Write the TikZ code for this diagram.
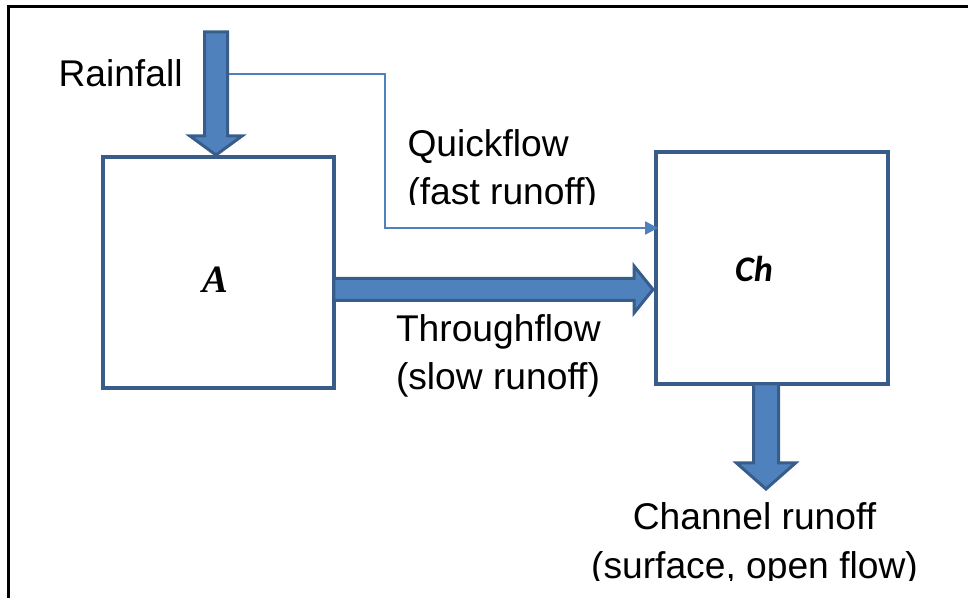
\documentclass[tikz,border=0pt]{standalone}
\usepackage{fontspec}
\setmainfont{Liberation Sans}
\newfontfamily\tnrfont{Liberation Serif}
\newfontfamily\calibfont{Carlito}
\usetikzlibrary{calc,arrows.meta}
\definecolor{accfill}{HTML}{4F81BD}
\definecolor{accline}{HTML}{385D8A}
\tikzset{
  box/.style={draw=accline, line width=3pt, fill=white, rectangle, inner sep=0pt, outer sep=0pt},
  fatarrow/.style={draw=accline, fill=accfill, line width=2.25pt, line join=miter},
  lab/.style={font=\fontsize{27.9pt}{36pt}\selectfont, inner sep=0pt, outer sep=0pt},
  thinflow/.style={draw=accfill, line width=1.1pt, -{Triangle[length=9.75pt,width=10pt]}},
  frameline/.style={draw=black, line width=2.25pt},
}
\begin{document}
\begin{tikzpicture}[x=0.75pt, y=-0.75pt]
\useasboundingbox (0,0) rectangle (968,598);
% outer frame (right and bottom lie outside the picture)
\draw[frameline] (8,598) -- (8,6.5) -- (968,6.5);

% storage boxes
\node[box, minimum width=173.25pt, minimum height=173.25pt] (A) at (218.3,272.5) {};
\node[box, minimum width=174pt, minimum height=174pt] (Ch) at (772,268) {};
\node[inner sep=0pt, font=\fontsize{29pt}{30pt}\tnrfont\bfseries\itshape] (Alab) at ($(A.center)+(-2.8,7)$) {A};
\node[inner sep=0pt, font=\fontsize{27pt}{30pt}\calibfont\bfseries\itshape] (Chlab) at ($(Ch.center)+(-18,1)$) {Ch};

% rainfall arrow
\coordinate (rtop) at (216,32);
\coordinate (rtip) at ($(rtop |- A.north)+(0,-2)$);
\draw[fatarrow] ($(rtop)+(-11.5,0)$) -- ($(rtip)+(-11.5,-19)$) -- ($(rtip)+(-26,-19)$) -- (rtip)
  -- ($(rtip)+(26,-19)$) -- ($(rtip)+(11.5,-19)$) -- ($(rtop)+(11.5,0)$) -- cycle;

% throughflow arrow
\coordinate (tstart) at ($(A.east)+(0,17)$);
\coordinate (ttip) at ($(tstart -| Ch.west)+(-3,0)$);
\draw[fatarrow] ($(tstart)+(0,-11)$) -- ($(ttip)+(-19,-11)$) -- ($(ttip)+(-19,-23.5)$) -- (ttip)
  -- ($(ttip)+(-19,23.5)$) -- ($(ttip)+(-19,11)$) -- ($(tstart)+(0,11)$) -- cycle;

% channel runoff arrow
\coordinate (cstart) at ($(Ch.south)+(-6,0)$);
\coordinate (ctip) at ($(cstart)+(0,105)$);
\draw[fatarrow] ($(cstart)+(-12.5,0)$) -- ($(ctip)+(-12.5,-26)$) -- ($(ctip)+(-29.5,-26)$) -- (ctip)
  -- ($(ctip)+(29.5,-26)$) -- ($(ctip)+(12.5,-26)$) -- ($(cstart)+(12.5,0)$) -- cycle;

% quickflow connector
\coordinate (qstart) at ($(rtop)+(13,42)$);
\coordinate (qend) at ($(Ch.west)+(2,-40)$);
\draw[thinflow] (qstart) -- (qstart -| 385,0) -- (385,0 |- qend) -- (qend);

% labels
\node[lab, anchor=base west] (rain) at (58.5,87) {Rainfall};
\begin{scope}
  \clip (380,100) rectangle (640,204.5);
  \node[lab, anchor=north west, align=left] (quick) at (407.5,123.4) {\strut Quickflow\\(fast runoff)};
\end{scope}
\node[lab, anchor=north west, align=left] (through) at (396,308.4) {\strut Throughflow\\(slow runoff)};
\begin{scope}
  \clip (560,480) rectangle (968,580.5);
  \node[lab, anchor=north, align=center] (chan) at (754.5,496.4) {\strut Channel runoff\\(surface, open flow)};
\end{scope}
\end{tikzpicture}
\end{document}
